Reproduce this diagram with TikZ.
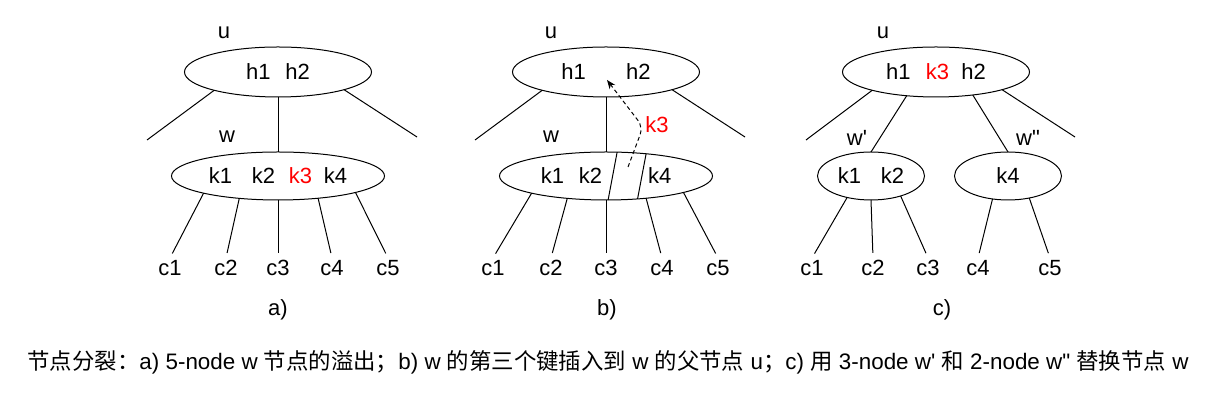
\documentclass[tikz,border=0pt]{standalone}
\usepackage{fontspec}
\setmainfont{Liberation Sans}
\newfontfamily\cjk{Noto Sans CJK SC}
\usepackage{tikz}
\usetikzlibrary{shapes.geometric, arrows.meta, positioning, calc}
\tikzstyle{parent} = [ellipse, draw, line width=0.5pt, inner sep=0pt, outer sep=0pt, minimum width=93.5pt, minimum height=25pt]
\tikzstyle{full} = [ellipse, draw, line width=0.5pt, inner sep=0pt, outer sep=0pt, minimum width=106.5pt, minimum height=24pt]
\tikzstyle{half} = [ellipse, draw, line width=0.5pt, inner sep=0pt, outer sep=0pt, minimum width=53.5pt, minimum height=24pt]
\tikzstyle{edge} = [line width=0.5pt]
\tikzstyle{child} = [edge, shorten >=2.5pt]

\begin{document}
\begin{tikzpicture}[x=0.5pt, y=-0.5pt, every node/.style={font=\fontsize{11}{13}\selectfont, inner sep=1pt}]
  \useasboundingbox (0,0) rectangle (1220,415);

  % a) overflow of w
  \node (ulaba) at (224,33) {u};
  \node[parent] (ua) at (278,72) {h1\hspace{7.4pt}h2};
  \node (wlaba) at (227,137) {w};
  \node[full] (wa) at (278,176) {k1\hspace{9.9pt}k2\hspace{6.9pt}\textcolor{red}{k3}\hspace{5.9pt}k4};
  \coordinate (la) at (147,140);
  \coordinate (ra) at (417,137);
  \node (c1a) at (170,268) {c1};
  \node (c2a) at (226,268) {c2};
  \node (c3a) at (278,268) {c3};
  \node (c4a) at (332,268) {c4};
  \node (c5a) at (388,268) {c5};
  \node (capa) at (278,310) {a)};
  \draw[edge] (ua.-164.2) -- (la);
  \draw[edge] (ua.-15.6) -- (ra);
  \draw[edge] (ua.south) -- (wa.north);
  \draw[child] (wa.-167.4) -- (c1a.north);
  \draw[child] (wa.-150.6) -- (c2a.north);
  \draw[child] (wa.south) -- (c3a.north);
  \draw[child] (wa.-29.4) -- (c4a.north);
  \draw[child] (wa.-12.6) -- (c5a.north);

  % b) k3 moves up to u
  \node (ulabb) at (551,33) {u};
  \node[parent] (ub) at (606,72) {h1\hspace{20.2pt}h2};
  \node (wlabb) at (551,137) {w};
  \node[full] (wb) at (606,176) {k1\hspace{7.5pt}k2\hspace{22.9pt}k4};
  \coordinate (lb) at (475,140);
  \coordinate (rb) at (745,137);
  \node (c1b) at (493,268) {c1};
  \node (c2b) at (551,268) {c2};
  \node (c3b) at (606,268) {c3};
  \node (c4b) at (662,268) {c4};
  \node (c5b) at (718,268) {c5};
  \node (capb) at (607,310) {b)};
  \draw[edge] (ub.-164.2) -- (lb);
  \draw[edge] (ub.-15.6) -- (rb);
  \draw[edge] (ub.south) -- (wb.north);
  \draw[edge] (wb.65.3) -- (wb.-85.2);
  \draw[edge] (wb.29) -- (wb.-36.5);
  \draw[child] (wb.-167.4) -- (c1b.north);
  \draw[child] (wb.-150.6) -- (c2b.north);
  \draw[child] (wb.south) -- (c3b.north);
  \draw[child] (wb.-29.4) -- (c4b.north);
  \draw[child] (wb.-12.6) -- (c5b.north);
  \coordinate (k3from) at (628,167);
  \coordinate (k3bend) at (643,127);
  \coordinate (k3to) at (607,80);
  \draw[edge, dash pattern=on 2pt off 1.5pt, rounded corners=4pt, -{Stealth[length=4.5pt, width=3.5pt]}] (k3from) -- (k3bend) -- (k3to);
  \node[text=red] (k3lab) at (657,125) {k3};

  % c) w split into w' and w''
  \node (ulabc) at (883,33) {u};
  \node[parent] (uc) at (936,72) {h1\hspace{7.6pt}\textcolor{red}{k3}\hspace{6.1pt}h2};
  \node (wlabc1) at (857,138) {w\textquotesingle};
  \node (wlabc2) at (1028,138) {w\textquotedbl};
  \node[half] (w1) at (871,176) {k1\hspace{9.9pt}k2};
  \node[half] (w2) at (1008,176) {k4};
  \coordinate (lc) at (806,140);
  \coordinate (rc) at (1075,137);
  \node (c1c) at (812,268) {c1};
  \node (c2c) at (873,268) {c2};
  \node (c3c) at (928,268) {c3};
  \node (c4c) at (978,268) {c4};
  \node (c5c) at (1050,268) {c5};
  \node (capc) at (942,310) {c)};
  \draw[edge] (uc.-164.2) -- (lc);
  \draw[edge] (uc.-15.6) -- (rc);
  \draw[edge] (uc.-141.7) -- (w1.north);
  \draw[edge] (uc.-32.7) -- (w2.north);
  \draw[child] (w1.-138.1) -- (c1c.north);
  \draw[child] (w1.south) -- (c2c.north);
  \draw[child] (w1.-34.9) -- (c3c.north);
  \draw[child] (w2.-124.9) -- (c4c.north);
  \draw[child] (w2.-46.5) -- (c5c.north);

  % caption
  \node[font=\fontsize{11.2}{13}\selectfont] (caption) at (608,362) {{\cjk 节点分裂：}a) 5-node w {\cjk 节点的溢出；}b) w {\cjk 的第三个键插入到} w {\cjk 的父节点} u{\cjk ；}c) {\cjk 用} 3-node w\textquotesingle{} {\cjk 和} 2-node w\textquotedbl{} {\cjk 替换节点} w};
\end{tikzpicture}
\end{document}
